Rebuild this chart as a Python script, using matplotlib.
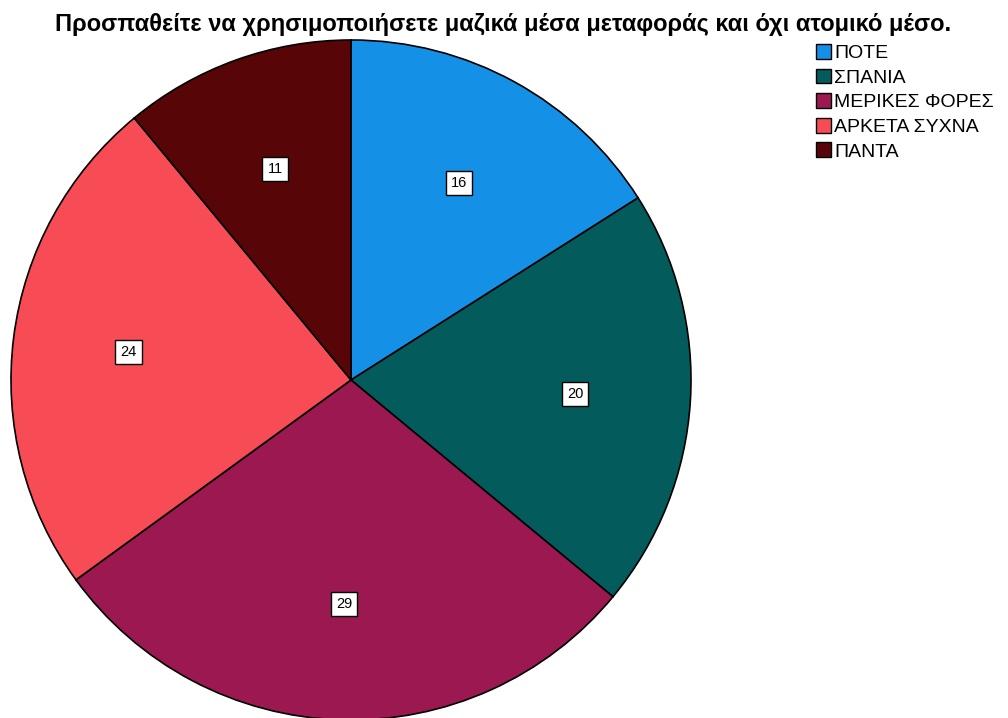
import matplotlib
matplotlib.use("Agg")
import matplotlib.pyplot as plt
from matplotlib.patches import Patch

title = "Προσπαθείτε να χρησιμοποιήσετε μαζικά μέσα μεταφοράς και όχι ατομικό μέσο."
categories = ["ΠΟΤΕ", "ΣΠΑΝΙΑ", "ΜΕΡΙΚΕΣ ΦΟΡΕΣ", "ΑΡΚΕΤΑ ΣΥΧΝΑ", "ΠΑΝΤΑ"]
values = [16, 20, 29, 24, 11]
colors = ["#1490e6", "#035c5b", "#9c1850", "#f74c55", "#580508"]

plt.rcParams['font.family'] = ['Liberation Sans', 'DejaVu Sans']

fig = plt.figure(figsize=(10.08, 7.18), dpi=100)
W, H = 1008, 718
cx, cy, r = 351, 380, 340
ax = fig.add_axes([(cx - r) / W, (H - cy - r) / H, 2 * r / W, 2 * r / H])

wedges, texts = ax.pie(values, colors=colors, startangle=90, counterclock=False,
                       labels=[str(v) for v in values], labeldistance=0.66,
                       wedgeprops=dict(edgecolor="black", linewidth=1.2),
                       textprops=dict(fontsize=10.5))
for t in texts:
    t.set_ha("center")
    t.set_va("center")
    t.set_bbox(dict(boxstyle="square,pad=0.35", facecolor="white", edgecolor="black", linewidth=1))

ax.set_xlim(-1, 1)
ax.set_ylim(-1, 1)
ax.set_aspect("auto")
ax.axis("off")

fig.text(503 / W, 1 - 24 / H, title, ha="center", va="center", fontsize=17, fontweight="bold")

handles = [Patch(facecolor=c, edgecolor="black", linewidth=1) for c in colors]
fig.legend(handles, categories, loc="upper left", bbox_to_anchor=(816 / W, 1 - 44 / H),
           frameon=False, fontsize=14, handlelength=0.75, handleheight=0.8,
           handletextpad=0.2, labelspacing=0.33, borderaxespad=0, borderpad=0)

fig.savefig("out.png", dpi=100)
